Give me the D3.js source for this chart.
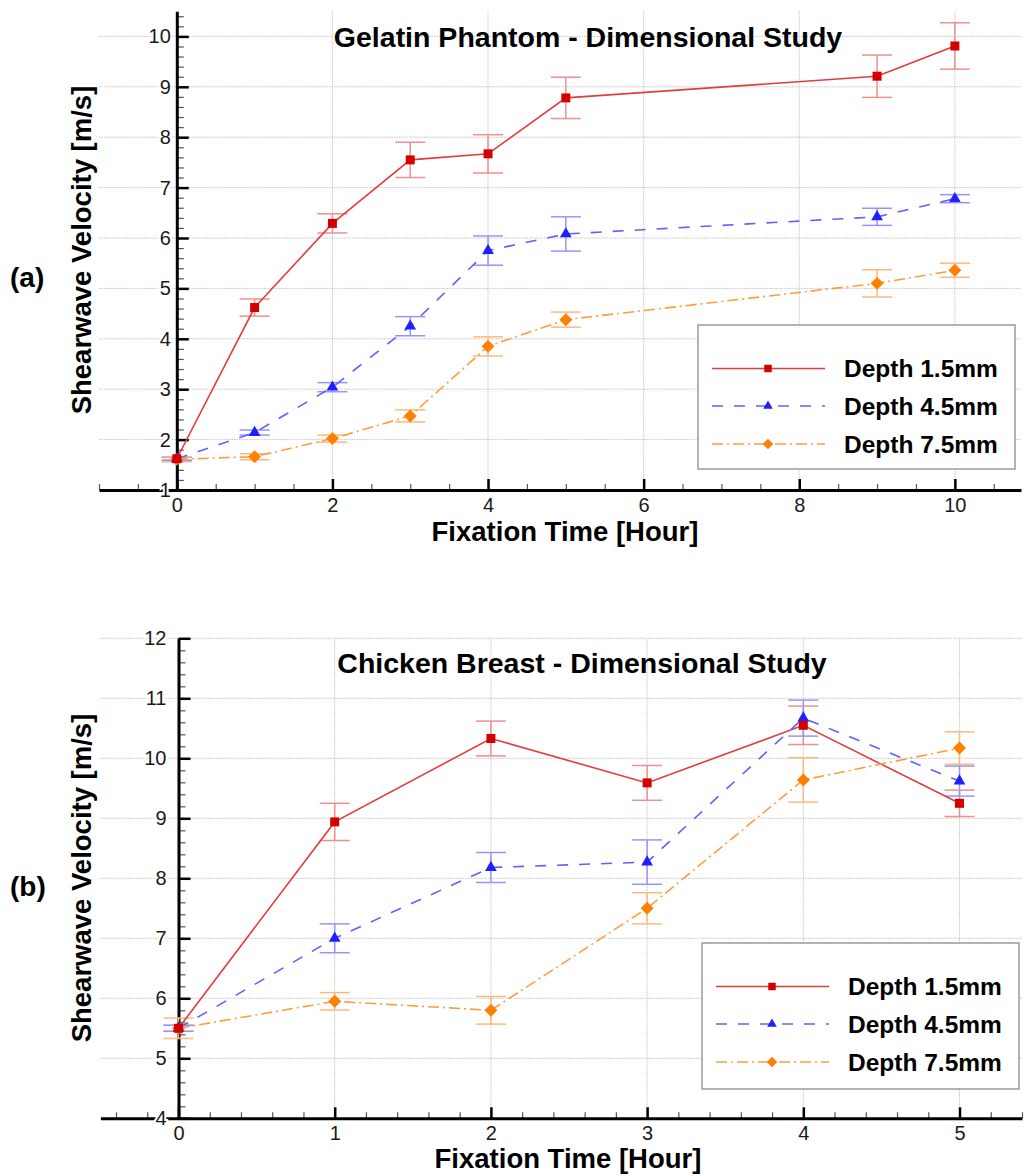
<!DOCTYPE html>
<html>
<head>
<meta charset="utf-8">
<script src="https://cdn.jsdelivr.net/npm/d3@7"></script>
<style>
  html, body { margin: 0; padding: 0; background: #fff; }
  svg { display: block; font-family: "Liberation Sans", Arial, Helvetica, sans-serif; }
</style>
</head>
<body>
<svg id="chart" width="1025" height="1176"></svg>
<script>
const seriesNames = ["Depth 1.5mm", "Depth 4.5mm", "Depth 7.5mm"];

// (a) gelatin phantom
const gelatinHours = [0, 1, 2, 3, 4, 5, 9, 10];
const gelatinDepth15 = [1.62, 4.62, 6.29, 7.55, 7.67, 8.78, 9.21, 9.81];
const gelatinDepth15Err = [0.03, 0.17, 0.19, 0.35, 0.38, 0.41, 0.42, 0.46];
const gelatinDepth45 = [1.62, 2.14, 3.04, 4.25, 5.75, 6.08, 6.42, 6.78];
const gelatinDepth45Err = [0.03, 0.05, 0.09, 0.19, 0.29, 0.34, 0.17, 0.08];
const gelatinDepth75 = [1.61, 1.66, 2.02, 2.47, 3.85, 4.38, 5.10, 5.36];
const gelatinDepth75Err = [0.05, 0.06, 0.07, 0.12, 0.19, 0.15, 0.27, 0.14];
const gelatinXTicks = [0, 2, 4, 6, 8, 10];
const gelatinYTicks = [1, 2, 3, 4, 5, 6, 7, 8, 9, 10];

// (b) chicken breast
const chickenHours = [0, 1, 2, 3, 4, 5];
const chickenDepth15 = [5.50, 8.94, 10.33, 9.59, 10.55, 9.25];
const chickenDepth15Err = [0.05, 0.31, 0.29, 0.29, 0.32, 0.22];
const chickenDepth45 = [5.50, 7.00, 8.18, 8.27, 10.67, 9.62];
const chickenDepth45Err = [0.05, 0.24, 0.25, 0.37, 0.30, 0.25];
const chickenDepth75 = [5.50, 5.95, 5.80, 7.50, 9.64, 10.17];
const chickenDepth75Err = [0.17, 0.145, 0.23, 0.26, 0.37, 0.27];
const chickenXTicks = [0, 1, 2, 3, 4, 5];
const chickenYTicks = [4, 5, 6, 7, 8, 9, 10, 11, 12];

const styles = [
  { line: "#e33c3c", dash: null, bar: "#ef8f8f", fill: "#d40000", shape: "square" },
  { line: "#6060ff", dash: "11,11", bar: "#9494ff", fill: "#2020ff", shape: "triangle" },
  { line: "#ff9c40", dash: "11,4,2,4", bar: "#ffb87c", fill: "#ff8000", shape: "diamond" }
];

const svg = d3.select("#chart");

function symbolPath(shape, small) {
  if (shape === "square") return d3.symbol(d3.symbolSquare, small ? 56 : 81)();
  if (shape === "triangle") return d3.symbol(d3.symbolTriangle, small ? 40 : 60)();
  return d3.symbol(d3.symbolSquare, small ? 56 : 84)();
}

function drawPanel(p) {
  const g = svg.append("g");

  const x = d3.scaleLinear().domain(p.xDomain).range(p.xRange);
  const y = d3.scaleLinear().domain(p.yDomain).range(p.yRange);
  const [y0] = p.yDomain;

  // grid
  g.append("g").selectAll("line")
    .data(p.yTicks.filter(v => v > y0))
    .join("line")
    .attr("x1", p.xRange[0]).attr("x2", p.xRange[1])
    .attr("y1", d => y(d)).attr("y2", d => y(d))
    .attr("stroke", "#c6c6c6").attr("stroke-width", 1).attr("stroke-dasharray", "1.5,1");
  g.append("g").selectAll("line")
    .data(p.xTicks.filter(v => v > 0))
    .join("line")
    .attr("x1", d => x(d)).attr("x2", d => x(d))
    .attr("y1", y(y0)).attr("y2", p.yRange[1])
    .attr("stroke", "#c6c6c6").attr("stroke-width", 1).attr("stroke-dasharray", "1.5,1");

  // y axis ticks (inside), labels (outside)
  const yMinorG = g.append("g").attr("transform", `translate(${x(0)},0)`)
    .call(d3.axisRight(y).tickValues(p.yMinor).tickSize(7).tickFormat("").tickSizeOuter(0));
  yMinorG.select(".domain").remove();
  yMinorG.selectAll(".tick line").attr("stroke", "#555").attr("stroke-width", 1.2);

  const yMajorG = g.append("g").attr("transform", `translate(${x(0)},0)`)
    .call(d3.axisRight(y).tickValues(p.yTicks).tickSize(12).tickFormat("").tickSizeOuter(0));
  yMajorG.select(".domain").attr("stroke", "#000").attr("stroke-width", 3);
  yMajorG.selectAll(".tick line").attr("stroke", "#000").attr("stroke-width", 2.5);

  // x axis ticks (pointing up), labels below
  const xMinorG = g.append("g").attr("transform", `translate(0,${y(y0)})`)
    .call(d3.axisTop(x).tickValues(p.xMinor).tickSize(6).tickFormat("").tickSizeOuter(0));
  xMinorG.select(".domain").remove();
  xMinorG.selectAll(".tick line").attr("stroke", "#555").attr("stroke-width", 1.2);

  const xMajorG = g.append("g").attr("transform", `translate(0,${y(y0)})`)
    .call(d3.axisTop(x).tickValues(p.xTicks).tickSize(11).tickFormat("").tickSizeOuter(0));
  xMajorG.select(".domain").attr("stroke", "#000").attr("stroke-width", 3);
  xMajorG.selectAll(".tick line").attr("stroke", "#000").attr("stroke-width", 2.5);

  const xLab = g.append("g").attr("transform", `translate(0,${y(y0)})`)
    .call(d3.axisBottom(x).tickValues(p.xTicks).tickSize(0).tickPadding(8).tickFormat(d3.format("d")));
  xLab.select(".domain").remove();
  xLab.selectAll("text").attr("font-size", 20).attr("fill", "#1a1a1a")
    .attr("font-family", "Liberation Sans, Arial, sans-serif");

  const yLab = g.append("g").attr("transform", `translate(${x(0)},0)`)
    .call(d3.axisLeft(y).tickValues(p.yTicks).tickSize(0).tickPadding(p.yPad).tickFormat(d3.format("d")));
  yLab.select(".domain").remove();
  yLab.selectAll("text").attr("font-size", 20).attr("fill", "#1a1a1a")
    .attr("font-family", "Liberation Sans, Arial, sans-serif")
    .attr("stroke", "#fff").attr("stroke-width", 4).attr("paint-order", "stroke");

  // series
  const line = d3.line().x(d => x(d[0])).y(d => y(d[1]));
  const series = p.values.map((vals, i) => ({
    i,
    pts: p.hours.map((h, k) => [h, vals[k], p.errors[i][k]])
  }));

  series.forEach(s => {
    const st = styles[s.i];
    const eb = g.append("g").attr("stroke", st.bar).attr("stroke-width", 1.5).attr("fill", "none");
    eb.selectAll("line.v").data(s.pts).join("line").attr("class", "v")
      .attr("x1", d => x(d[0])).attr("x2", d => x(d[0]))
      .attr("y1", d => y(d[1] - d[2])).attr("y2", d => y(d[1] + d[2]));
    eb.selectAll("line.t").data(s.pts).join("line").attr("class", "t")
      .attr("x1", d => x(d[0]) - 15).attr("x2", d => x(d[0]) + 15)
      .attr("y1", d => y(d[1] + d[2])).attr("y2", d => y(d[1] + d[2]));
    eb.selectAll("line.b").data(s.pts).join("line").attr("class", "b")
      .attr("x1", d => x(d[0]) - 15).attr("x2", d => x(d[0]) + 15)
      .attr("y1", d => y(d[1] - d[2])).attr("y2", d => y(d[1] - d[2]));
  });

  series.forEach(s => {
    const st = styles[s.i];
    g.append("path").datum(s.pts)
      .attr("d", line).attr("fill", "none")
      .attr("stroke", st.line).attr("stroke-width", 1.6)
      .attr("stroke-dasharray", st.dash);
  });

  series.slice().reverse().forEach(s => {
    const st = styles[s.i];
    g.append("g").selectAll("path").data(s.pts).join("path")
      .attr("d", symbolPath(st.shape, false))
      .attr("transform", d => `translate(${x(d[0])},${y(d[1])})` + (st.shape === "diamond" ? " rotate(45)" : ""))
      .attr("fill", st.fill);
  });

  // title and labels
  g.append("text").attr("x", p.titlePos[0]).attr("y", p.titlePos[1])
    .attr("text-anchor", "middle").attr("font-size", 28.5).attr("font-weight", "bold")
    .text(p.title);
  g.append("text").attr("x", p.xLabelPos[0]).attr("y", p.xLabelPos[1])
    .attr("text-anchor", "middle").attr("font-size", 27.5).attr("font-weight", "bold")
    .text("Fixation Time [Hour]");
  g.append("text")
    .attr("transform", `translate(${p.yLabelPos[0]},${p.yLabelPos[1]}) rotate(-90)`)
    .attr("text-anchor", "middle").attr("font-size", 27.5).attr("font-weight", "bold")
    .text("Shearwave Velocity [m/s]");
  g.append("text").attr("x", 10).attr("y", p.tagY)
    .attr("font-size", 28).attr("font-weight", "bold")
    .text(p.tag);

  // legend
  const [lx, ly, lw, lh] = p.legend;
  const lg = g.append("g").attr("transform", `translate(${lx},${ly})`);
  lg.append("rect").attr("width", lw).attr("height", lh)
    .attr("fill", "#fff").attr("stroke", "#9a9a9a").attr("stroke-width", 1.5);
  const rowY = [43.5, 81, 119];
  seriesNames.forEach((name, i) => {
    const st = styles[i];
    const row = lg.append("g").attr("transform", `translate(0,${rowY[i]})`);
    row.append("line").attr("x1", 14).attr("x2", 127)
      .attr("stroke", st.line).attr("stroke-width", 1.6).attr("stroke-dasharray", st.dash);
    row.append("path").attr("d", symbolPath(st.shape, true))
      .attr("transform", "translate(70,0)" + (st.shape === "diamond" ? " rotate(45)" : ""))
      .attr("fill", st.fill);
    row.append("text").attr("x", 146).attr("dy", "0.36em")
      .attr("font-size", 24.5).attr("font-weight", "bold").text(name);
  });
}

drawPanel({
  hours: gelatinHours,
  values: [gelatinDepth15, gelatinDepth45, gelatinDepth75],
  errors: [gelatinDepth15Err, gelatinDepth45Err, gelatinDepth75Err],
  xDomain: [-1, 10.85], xRange: [99, 1021],
  yDomain: [1, 10.5], yRange: [490, 11.2],
  xTicks: gelatinXTicks, xMinor: d3.range(-1, 10.85, 0.5),
  yTicks: gelatinYTicks, yMinor: d3.range(1, 10.51, 0.2),
  yPad: 6,
  title: "Gelatin Phantom - Dimensional Study", titlePos: [588, 47],
  xLabelPos: [565, 541], yLabelPos: [91, 250],
  tag: "(a)", tagY: 287,
  legend: [698, 325, 317, 144]
});

drawPanel({
  hours: chickenHours,
  values: [chickenDepth15, chickenDepth45, chickenDepth75],
  errors: [chickenDepth15Err, chickenDepth45Err, chickenDepth75Err],
  xDomain: [-0.5, 5.4], xRange: [100.4, 1022],
  yDomain: [4, 12], yRange: [1118.3, 638.3],
  xTicks: chickenXTicks, xMinor: d3.range(-0.4, 5.41, 0.2),
  yTicks: chickenYTicks, yMinor: d3.range(4, 12.01, 0.2),
  yPad: 12,
  title: "Chicken Breast - Dimensional Study", titlePos: [582, 673],
  xLabelPos: [568, 1168], yLabelPos: [91, 878],
  tag: "(b)", tagY: 896,
  legend: [702, 943, 317, 146]
});
</script>
</body>
</html>
